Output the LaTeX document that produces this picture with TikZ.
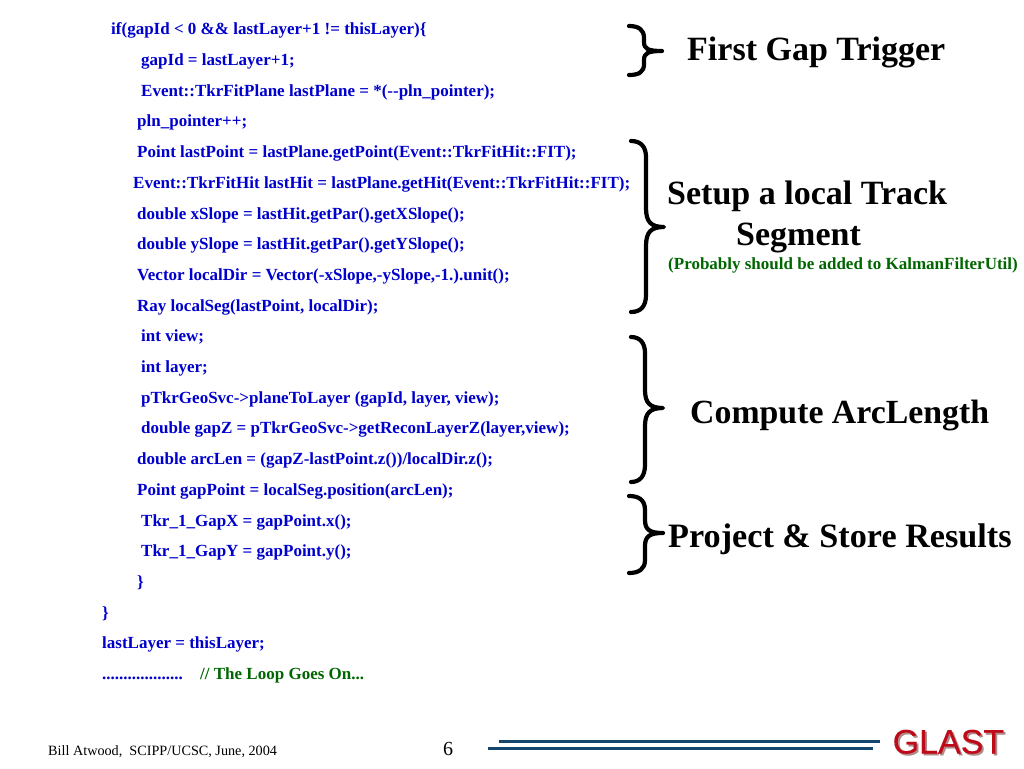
\documentclass[tikz,border=0pt]{standalone}
\usepackage{fontspec}
\setmainfont{Liberation Serif}
\newfontfamily\glastfont[FakeBold=0.25]{Liberation Sans}
\definecolor{codeblue}{RGB}{0,0,204}
\definecolor{notegreen}{RGB}{0,102,0}
\definecolor{rulenavy}{RGB}{20,70,110}
\definecolor{glastred}{RGB}{190,10,25}
\definecolor{glastshade}{RGB}{175,140,140}
\tikzset{
  code/.style={anchor=base west,inner sep=0pt,text=codeblue,font=\fontsize{17}{19}\selectfont\bfseries},
  codegreen/.style={code,text=notegreen},
  head/.style={anchor=base west,inner sep=0pt,font=\fontsize{34}{38}\selectfont\bfseries},
  brace/.style={line width=4.2pt,line cap=round,line join=round},
  rulebar/.style={line width=3pt,draw=rulenavy}
}
\begin{document}
\begin{tikzpicture}[x=1pt,y=-1pt]
\useasboundingbox (0,0) rectangle (1024,768);
\fill[white] (0,0) rectangle (1024,768);
\node[code] (l1) at (111,34.7) {if(gapId < 0 \&\& lastLayer+1 != thisLayer)\{};
\node[code] (l2) at (141,65.4) {gapId = lastLayer+1;};
\node[code] (l3) at (141,96.1) {Event::TkrFitPlane lastPlane = *(-{}-pln\_pointer);};
\node[code] (l4) at (137,126.8) {pln\_pointer++;};
\node[code] (l5) at (137,157.5) {Point lastPoint = lastPlane.getPoint(Event::TkrFitHit::FIT);};
\node[code] (l6) at (133,188.3) {Event::TkrFitHit lastHit = lastPlane.getHit(Event::TkrFitHit::FIT);};
\node[code] (l7) at (137,219) {double xSlope = lastHit.getPar().getXSlope();};
\node[code] (l8) at (137,249.7) {double ySlope = lastHit.getPar().getYSlope();};
\node[code] (l9) at (137,280.4) {Vector localDir = Vector(-xSlope,-ySlope,-1.).unit();};
\node[code] (l10) at (137,311.1) {Ray localSeg(lastPoint, localDir);};
\node[code] (l11) at (141,341.8) {int view;};
\node[code] (l12) at (141,372.5) {int layer;};
\node[code] (l13) at (141,403.2) {pTkrGeoSvc->planeToLayer (gapId, layer, view);};
\node[code] (l14) at (141,433.9) {double gapZ = pTkrGeoSvc->getReconLayerZ(layer,view);};
\node[code] (l15) at (137,464.6) {double arcLen = (gapZ-lastPoint.z())/localDir.z();};
\node[code] (l16) at (137,495.4) {Point gapPoint = localSeg.position(arcLen);};
\node[code] (l17) at (141,526.1) {Tkr\_1\_GapX = gapPoint.x();};
\node[code] (l18) at (141,556.8) {Tkr\_1\_GapY = gapPoint.y();};
\node[code] (l19) at (137,587.5) {\}};
\node[code] (l20) at (102,618.2) {\}};
\node[code] (l21) at (102,648.9) {lastLayer = thisLayer;};
\node[code] (l22) at (102,679.6) {...................};
\node[codegreen] (l23) at (200,679.6) {// The Loop Goes On...};
% braces
\draw[brace] (629,26) .. controls (639,26) and (644,30) .. (644,38) -- (644,42)
  .. controls (644,49) and (648,51) .. (662,51)
  .. controls (648,51) and (644,53) .. (644,60) -- (644,64)
  .. controls (644,72) and (639,75) .. (629,75);
\draw[brace] (631,141) .. controls (641,141) and (646,147) .. (646,157) -- (646,208)
  .. controls (646,222) and (651,227) .. (664,227)
  .. controls (651,227) and (646,232) .. (646,246) -- (646,295)
  .. controls (646,306) and (641,312) .. (631,312);
\draw[brace] (631,337) .. controls (640,337) and (645,343) .. (645,353) -- (645,390)
  .. controls (645,403) and (650,408) .. (663,408)
  .. controls (650,408) and (645,413) .. (645,426) -- (645,465)
  .. controls (645,476) and (640,482) .. (631,482);
\draw[brace] (629,496) .. controls (639,496) and (645,500) .. (645,510) -- (645,520)
  .. controls (645,530) and (650,533) .. (663,533)
  .. controls (650,533) and (645,536) .. (645,546) -- (645,560)
  .. controls (645,569) and (639,573) .. (629,573);
% headings
\node[head] (h1) at (687,60) {First Gap Trigger};
\node[head] (h2) at (667,204) {Setup a local Track};
\node[head] (h3) at (736,245) {Segment};
\node[anchor=base west,inner sep=0pt,text=notegreen,font=\fontsize{17}{19}\selectfont\bfseries] (h4) at (668,269.5) {(Probably should be added to KalmanFilterUtil)};
\node[head,font=\fontsize{33.8}{38}\selectfont\bfseries] (h5) at (690,423) {Compute ArcLength};
\node[head,font=\fontsize{34.2}{38}\selectfont\bfseries] (h6) at (668,547) {Project \& Store Results};
% footer
\node[anchor=base west,inner sep=0pt,font=\fontsize{14.2}{16}\selectfont] (f1) at (48,755) {Bill Atwood,\ \ SCIPP/UCSC, June, 2004};
\node[anchor=base west,inner sep=0pt,font=\fontsize{20}{22}\selectfont] (f2) at (443,755) {6};
\draw[rulebar] (488,748) -- (873,748);
\draw[rulebar] (499,741.5) -- (880,741.5);
\node[anchor=base west,inner sep=0pt,text=glastshade,font=\glastfont\fontsize{34}{38}\selectfont] (g0) at (894.3,755.3) {GLAST};
\node[anchor=base west,inner sep=0pt,text=glastred,font=\glastfont\fontsize{34}{38}\selectfont] (g1) at (892.5,753.5) {GLAST};
\end{tikzpicture}
\end{document}
